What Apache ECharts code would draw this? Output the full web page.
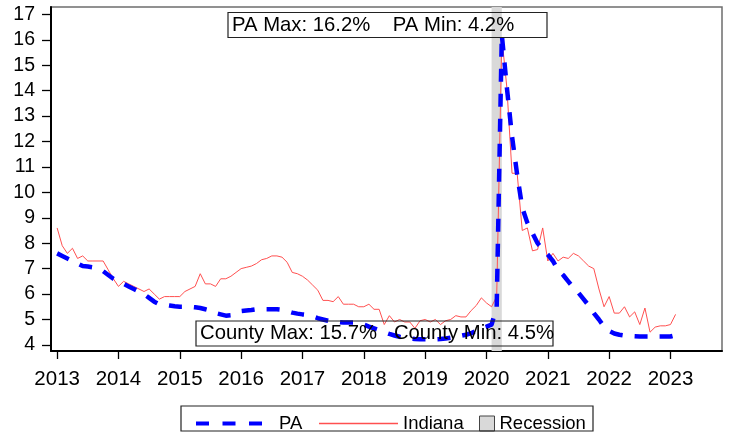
<!DOCTYPE html>
<html>
<head>
<meta charset="utf-8">
<script src="https://cdn.jsdelivr.net/npm/echarts@6/dist/echarts.min.js"></script>
<style>
  html, body { margin: 0; padding: 0; background: #fff; }
  #main { width: 729px; height: 432px; }
</style>
</head>
<body>
<div id="main"></div>
<script>
// monthly series, Jan 2013 .. Feb 2023
const startYear = 2013;

const paRate = [
  7.6, 7.5, 7.4, 7.3, 7.2, 7.1, 7.08, 7.05, 7.0, 6.9, 6.75, 6.6,
  6.5, 6.4, 6.3, 6.2, 6.1, 6.0, 5.85, 5.7, 5.6, 5.58, 5.55, 5.52,
  5.5, 5.5, 5.5, 5.48, 5.45, 5.4, 5.35, 5.25, 5.2, 5.15, 5.17, 5.28,
  5.33, 5.35, 5.37, 5.4, 5.4, 5.4, 5.4, 5.4, 5.38, 5.33, 5.27, 5.23,
  5.2, 5.18, 5.12, 5.05, 5.0, 4.95, 4.9, 4.9, 4.88, 4.88, 4.88, 4.86,
  4.8, 4.72, 4.65, 4.58, 4.5, 4.43, 4.37, 4.32, 4.28, 4.25, 4.23, 4.22,
  4.22, 4.22, 4.22, 4.23, 4.25, 4.28, 4.32, 4.36, 4.4, 4.46, 4.55, 4.65,
  4.72, 4.8, 5.5, 16.2, 14.1, 12.2, 10.7, 9.4, 8.8, 8.4, 8.0, 7.75,
  7.55, 7.3, 6.95, 6.75, 6.5, 6.25, 6.05, 5.8, 5.55, 5.25, 5.0, 4.72,
  4.55, 4.45, 4.4, 4.37, 4.35, 4.34, 4.33, 4.33, 4.33, 4.33, 4.33, 4.33,
  4.33, 4.38
];

const indianaRate = [
  8.6, 7.9, 7.6, 7.8, 7.4, 7.5, 7.3, 7.3, 7.3, 7.3, 6.95, 6.6,
  6.3, 6.5, 6.4, 6.3, 6.2, 6.1, 6.2, 6.0, 5.8, 5.9, 5.9, 5.9,
  5.9, 6.1, 6.2, 6.3, 6.8, 6.4, 6.4, 6.3, 6.6, 6.6, 6.7, 6.85,
  7.0, 7.05, 7.1, 7.2, 7.35, 7.4, 7.5, 7.5, 7.45, 7.25, 6.85, 6.8,
  6.7, 6.55, 6.35, 6.15, 5.75, 5.75, 5.7, 5.9, 5.6, 5.6, 5.6, 5.5,
  5.5, 5.6, 5.4, 5.4, 4.8, 5.15, 4.9, 5.0, 4.9, 4.9, 4.65, 4.95,
  5.0, 4.9, 5.0, 4.8, 4.95, 5.0, 5.15, 5.1, 5.1, 5.35, 5.55, 5.85,
  5.65, 5.5, 5.9, 16.1, 14.1, 10.75, 10.75, 8.5, 8.6, 7.7, 7.75, 8.6,
  7.3, 7.6, 7.3, 7.45, 7.4, 7.6, 7.5, 7.3, 7.1, 7.0, 6.2, 5.5,
  5.9, 5.25, 5.25, 5.5, 5.1, 5.3, 4.8, 5.45, 4.5, 4.7, 4.75, 4.75,
  4.8, 5.2
];

const recession = [2020 + 1 / 12, 2020 + 3 / 12];

const xTicks = [2013, 2014, 2015, 2016, 2017, 2018, 2019, 2020, 2021, 2022, 2023];
const yTicks = [4, 5, 6, 7, 8, 9, 10, 11, 12, 13, 14, 15, 16, 17];

const paLabel = 'PA Max: 16.2%    PA Min: 4.2%';
const countyLabel = 'County Max: 15.7%   County Min: 4.5%';

function toPairs(values) {
  return values.map((v, i) => [startYear + i / 12, v]);
}

const font = '"Liberation Sans", Arial, sans-serif';
const chart = echarts.init(document.getElementById('main'));

// hide the symbol that line series put in the middle of their legend icon
const noSymbol = { color: 'rgba(0,0,0,0)', borderWidth: 0 };

const options = {
  animation: false,
  backgroundColor: '#fff',
  grid: {
    left: 51, right: 7, top: 7, bottom: 81,
    show: true, borderColor: '#6e6e6e', borderWidth: 1.5
  },
  xAxis: {
    type: 'value',
    min: 2012.9,
    max: 2023.84,
    axisLine: { show: true, lineStyle: { color: '#000', width: 2 } },
    axisTick: { show: true, length: 8, customValues: xTicks, lineStyle: { color: '#000', width: 1.3 } },
    axisLabel: {
      customValues: xTicks, margin: 18, fontSize: 20.5, color: '#000', fontFamily: font,
      formatter: v => String(v)
    },
    splitLine: { show: false }
  },
  yAxis: {
    type: 'value',
    min: 3.76,
    max: 17.29,
    axisLine: { show: true, lineStyle: { color: '#000', width: 2 } },
    axisTick: { show: true, length: 9, customValues: yTicks, lineStyle: { color: '#000', width: 1.3 } },
    axisLabel: { customValues: yTicks, margin: 16, fontSize: 19.5, color: '#000', fontFamily: font },
    splitLine: { show: false }
  },
  legend: [
    {
      data: ['PA'], left: 189, top: 409, itemWidth: 67, itemHeight: 14,
      lineStyle: { color: '#0000ff', width: 4, type: [13, 13.5], cap: 'butt' },
      itemStyle: noSymbol,
      textStyle: { fontSize: 18.5, color: '#000', fontFamily: font, padding: [0, 0, 0, 11] }
    },
    {
      data: [{ name: 'Indiana', icon: 'rect' }], left: 314, top: 409, itemWidth: 79, itemHeight: 1.3,
      itemStyle: { color: '#ff5050', borderWidth: 0 },
      textStyle: { fontSize: 18.5, color: '#000', fontFamily: font, padding: [0, 0, 0, 0] }
    },
    {
      data: [{ name: 'Recession', icon: 'rect' }], left: 474, top: 409, itemWidth: 15, itemHeight: 15,
      itemStyle: { color: '#d9d9d9', borderColor: '#444', borderWidth: 1 },
      textStyle: { fontSize: 18.5, color: '#000', fontFamily: font, padding: [0, 0, 0, 0] }
    }
  ],
  graphic: [
    { type: 'rect', shape: { x: 228, y: 12.5, width: 319, height: 25 },
      style: { fill: 'none', stroke: '#222', lineWidth: 1.2 }, z: 100 },
    { type: 'text', x: 232, y: 25, style: { text: paLabel, font: '20.3px ' + font, fill: '#000', verticalAlign: 'middle' }, z: 100 },
    { type: 'rect', shape: { x: 196, y: 321, width: 357, height: 25 },
      style: { fill: 'none', stroke: '#222', lineWidth: 1.2 }, z: 100 },
    { type: 'text', x: 200, y: 333.5, style: { text: countyLabel, font: '20.3px ' + font, fill: '#000', verticalAlign: 'middle' }, z: 100 },
    { type: 'rect', shape: { x: 181, y: 406, width: 412, height: 25 },
      style: { fill: 'none', stroke: '#222', lineWidth: 1.2 }, z: 100 }
  ],
  series: [
    {
      name: 'Recession',
      type: 'line',
      data: [],
      itemStyle: { color: '#d9d9d9' },
      markArea: {
        silent: true,
        itemStyle: { color: '#d9d9d9' },
        data: [[{ xAxis: recession[0] }, { xAxis: recession[1] }]]
      },
      z: 1
    },
    {
      name: 'Indiana',
      type: 'line',
      data: toPairs(indianaRate),
      symbol: 'none',
      itemStyle: { color: '#ff5050' },
      lineStyle: { color: '#ff5050', width: 1 },
      z: 3
    },
    {
      name: 'PA',
      type: 'line',
      data: toPairs(paRate),
      symbol: 'none',
      itemStyle: { color: '#0000ff' },
      lineStyle: { color: '#0000ff', width: 4.5, type: [13, 12], cap: 'butt' },
      z: 4
    }
  ]
};

chart.setOption(options);
</script>
</body>
</html>
